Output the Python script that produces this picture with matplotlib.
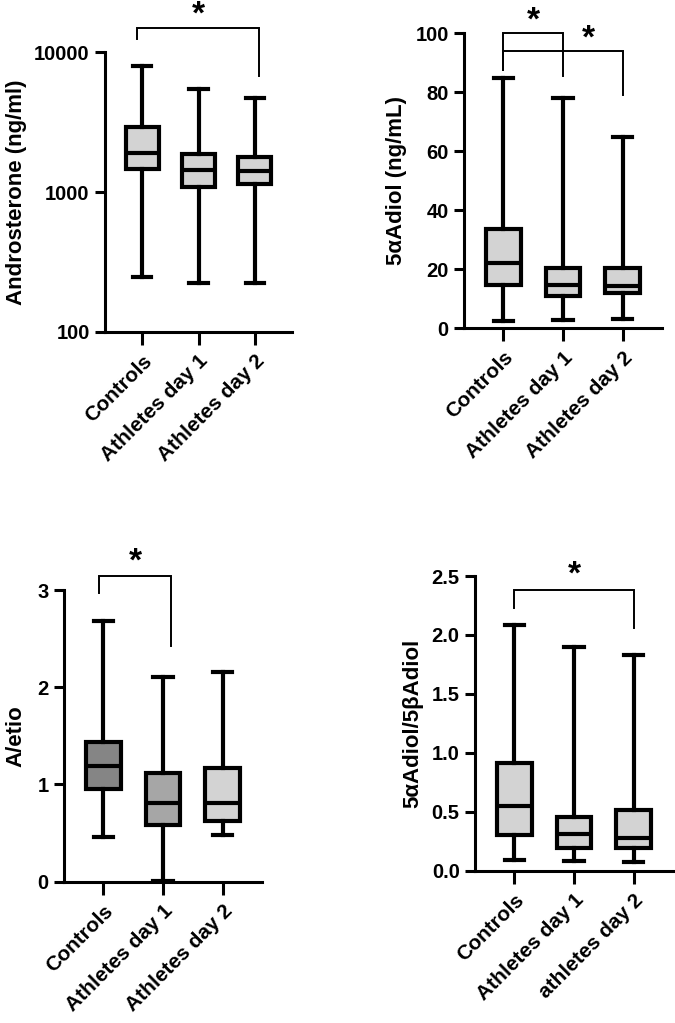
import matplotlib
matplotlib.use("Agg")
import matplotlib.pyplot as plt

plt.rcParams['font.family'] = ['Liberation Sans', 'DejaVu Sans']
plt.rcParams['font.weight'] = 'bold'

groups = ["Controls", "Athletes day 1", "Athletes day 2"]
groups4 = ["Controls", "Athletes day 1", "athletes day 2"]

# Androsterone (ng/ml): whislo, q1, med, q3, whishi
andro_lo = [248, 223, 223]
andro_q1 = [1452, 1080, 1140]
andro_med = [1910, 1436, 1413]
andro_q3 = [2930, 1868, 1786]
andro_hi = [7980, 5410, 4720]

# 5aAdiol (ng/mL)
adiol_lo = [2.5, 2.8, 3.0]
adiol_q1 = [14.7, 10.9, 11.9]
adiol_med = [22.2, 14.7, 14.3]
adiol_q3 = [33.6, 20.3, 20.5]
adiol_hi = [84.7, 78.0, 64.7]

# A/etio
aetio_lo = [0.457, 0.01, 0.48]
aetio_q1 = [0.95, 0.583, 0.627]
aetio_med = [1.19, 0.81, 0.81]
aetio_q3 = [1.44, 1.115, 1.167]
aetio_hi = [2.685, 2.11, 2.16]

# 5aAdiol/5bAdiol
ratio_lo = [0.091, 0.085, 0.076]
ratio_q1 = [0.303, 0.19, 0.19]
ratio_med = [0.549, 0.311, 0.275]
ratio_q3 = [0.911, 0.458, 0.515]
ratio_hi = [2.084, 1.90, 1.83]

W, H = 675, 1023
fig = plt.figure(figsize=(W / 100, H / 100), dpi=100)

TICK_FS = 14.5
XT_FS = 15
LAB_FS = 16


def add_ax(left, right, top, bottom):
    return fig.add_axes([left / W, 1 - bottom / H, (right - left) / W, (bottom - top) / H])


def draw(ax, lo, q1, med, q3, hi, colors, labels):
    stats = [dict(whislo=a, q1=b, med=c, q3=d, whishi=e, fliers=[])
             for a, b, c, d, e in zip(lo, q1, med, q3, hi)]
    bp = ax.bxp(stats, positions=range(len(stats)), widths=0.58, patch_artist=True,
                showfliers=False,
                boxprops=dict(linewidth=3.0, edgecolor='black'),
                medianprops=dict(color='black', linewidth=3.0, solid_capstyle='butt'),
                whiskerprops=dict(color='black', linewidth=3.0),
                capprops=dict(color='black', linewidth=3.0),
                capwidths=0.32)
    for patch, c in zip(bp['boxes'], colors):
        patch.set_facecolor(c)
    ax.set_xlim(-0.66, 2.66)
    ax.set_xticks(range(len(labels)))
    ax.set_xticklabels(labels, rotation=45, ha='right', rotation_mode='anchor',
                       fontsize=XT_FS, fontweight='bold')
    for s in ['top', 'right']:
        ax.spines[s].set_visible(False)
    for s in ['left', 'bottom']:
        ax.spines[s].set_linewidth(2.2)
    ax.tick_params(axis='both', direction='out', width=2.2)
    ax.tick_params(axis='y', labelsize=TICK_FS, length=7.5)
    ax.tick_params(axis='x', pad=5, length=9)
    for t in ax.get_yticklabels():
        t.set_fontweight('bold')


def bracket(ax, x1, x2, y, yl, yr, xs, ys):
    ax.plot([x1, x1, x2, x2], [yl, y, y, yr], color='black', lw=1.4, clip_on=False,
            solid_joinstyle='miter')
    ax.text(xs, ys, '*', ha='center', va='center', fontsize=24,
            fontweight='bold', clip_on=False)


light = '#d3d3d3'

# Panel 1
ax1 = add_ax(105, 292, 52, 332)
draw(ax1, andro_lo, andro_q1, andro_med, andro_q3, andro_hi, [light] * 3, groups)
ax1.set_yscale('log')
ax1.set_ylim(100, 10000)
ax1.set_yticks([100, 1000, 10000])
ax1.set_yticklabels(['100', '1000', '10000'], fontsize=TICK_FS, fontweight='bold')
ax1.minorticks_off()
ax1.set_ylabel('Androsterone (ng/ml)', fontsize=LAB_FS, fontweight='bold', labelpad=5)
bracket(ax1, -0.09, 2.07, 14760, 12380, 6740, 0.99, 18500)

# Panel 2
ax2 = add_ax(464, 662, 33.3, 328.3)
draw(ax2, adiol_lo, adiol_q1, adiol_med, adiol_q3, adiol_hi, [light] * 3, groups)
ax2.set_ylim(0, 100)
ax2.set_yticks([0, 20, 40, 60, 80, 100])
ax2.set_ylabel('5αAdiol (ng/mL)', fontsize=LAB_FS, fontweight='bold', labelpad=6)
bracket(ax2, 0, 1, 100, 87.6, 85.5, 0.5, 104)
bracket(ax2, 0, 2, 94, 87.6, 79, 1.42, 98)

# Panel 3
ax3 = add_ax(64, 262, 590, 881.7)
draw(ax3, aetio_lo, aetio_q1, aetio_med, aetio_q3, aetio_hi,
     ['#858585', '#a6a6a6', light], groups)
ax3.set_ylim(0, 3)
ax3.set_yticks([0, 1, 2, 3])
ax3.set_ylabel('A/etio', fontsize=LAB_FS, fontweight='bold', labelpad=8)
bracket(ax3, -0.07, 1.13, 3.145, 2.97, 2.42, 0.53, 3.29)

# Panel 4
ax4 = add_ax(475, 673, 576, 870.7)
draw(ax4, ratio_lo, ratio_q1, ratio_med, ratio_q3, ratio_hi, [light] * 3, groups4)
ax4.set_ylim(0, 2.5)
ax4.set_yticks([0, 0.5, 1.0, 1.5, 2.0, 2.5])
ax4.set_yticklabels(['0.0', '0.5', '1.0', '1.5', '2.0', '2.5'], fontsize=TICK_FS,
                    fontweight='bold')
ax4.set_ylabel('5αAdiol/5βAdiol', fontsize=LAB_FS, fontweight='bold', labelpad=6)
bracket(ax4, 0, 2, 2.38, 2.23, 2.06, 1.0, 2.51)

fig.savefig('out.png', dpi=100)
